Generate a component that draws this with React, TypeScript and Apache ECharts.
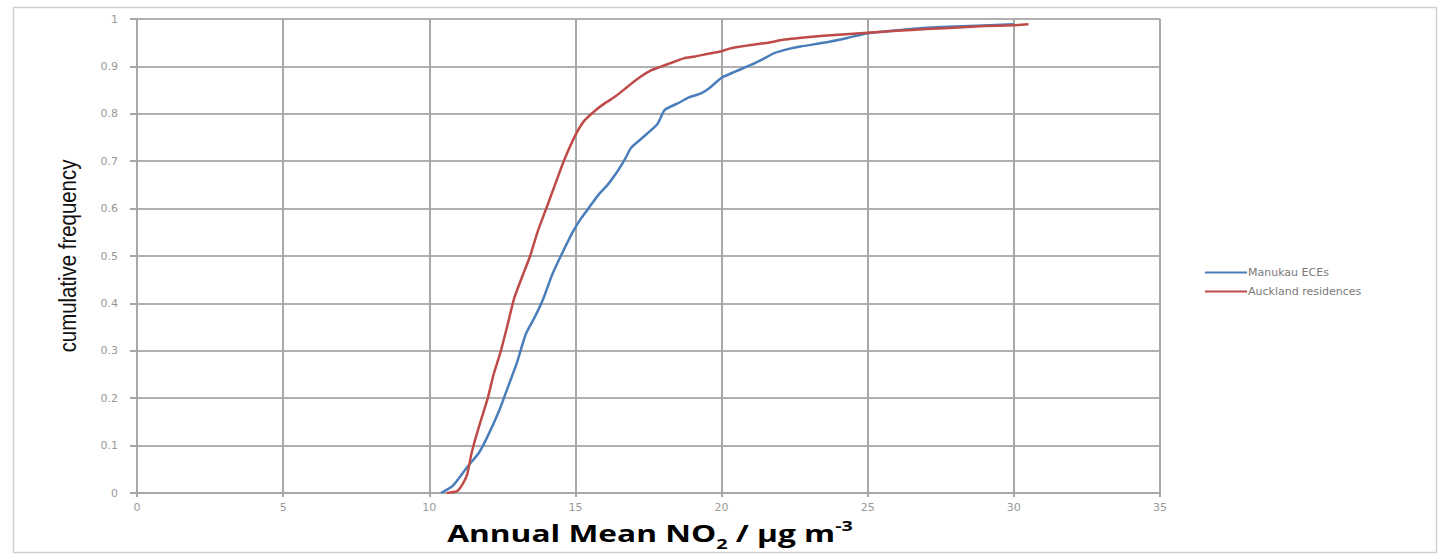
import React, { useEffect, useRef } from "react";
import * as echarts from "echarts";

const seriesNames = ["Manukau ECEs", "Auckland residences"];

const manukauX = [10.4, 10.8, 11.3, 11.7, 12.0, 12.4, 12.7, 13.0, 13.3, 13.6, 13.9, 14.2, 14.5, 14.9, 15.2, 15.5, 15.8, 16.1, 16.4, 16.7, 16.9, 17.3, 17.8, 18.05, 18.5, 18.9, 19.3, 19.6, 20.0, 20.5, 21.0, 21.4, 21.8, 22.3, 22.7, 23.6, 24.3, 25.0, 25.8, 26.7, 28.0, 30.0];
const manukauY = [0, 0.015, 0.055, 0.085, 0.12, 0.175, 0.225, 0.275, 0.335, 0.37, 0.41, 0.46, 0.5, 0.55, 0.58, 0.605, 0.63, 0.65, 0.675, 0.705, 0.728, 0.75, 0.778, 0.808, 0.822, 0.835, 0.843, 0.855, 0.876, 0.89, 0.903, 0.915, 0.928, 0.937, 0.942, 0.951, 0.96, 0.97, 0.975, 0.98, 0.984, 0.989];

const aucklandX = [10.6, 10.95, 11.15, 11.3, 11.45, 11.7, 12.0, 12.2, 12.45, 12.7, 12.9, 13.2, 13.45, 13.7, 14.0, 14.3, 14.6, 15.0, 15.3, 15.7, 16.0, 16.4, 16.8, 17.2, 17.6, 17.9, 18.3, 18.7, 19.1, 19.5, 20.0, 20.3, 21.0, 21.6, 22.1, 23.2, 24.0, 25.0, 26.0, 27.0, 27.8, 29.0, 30.0, 30.5];
const aucklandY = [0, 0.004, 0.02, 0.04, 0.085, 0.14, 0.2, 0.25, 0.3, 0.36, 0.41, 0.46, 0.5, 0.55, 0.6, 0.65, 0.7, 0.755, 0.785, 0.808, 0.822, 0.838, 0.858, 0.877, 0.892, 0.899, 0.908, 0.917, 0.921, 0.926, 0.932, 0.938, 0.945, 0.95, 0.956, 0.963, 0.967, 0.971, 0.975, 0.979, 0.981, 0.985, 0.987, 0.989];

const xTitle = "{a|Annual Mean NO}{s|2}{a| / µg m}{p|-3}";
const yTitle = "cumulative frequency";

export default function App() {
  const ref = useRef<HTMLDivElement>(null);
  useEffect(() => {
    if (!ref.current) return;
    const chart = echarts.init(ref.current, null, { renderer: "svg" });
    const zip = (xs: number[], ys: number[]) => xs.map((x, i) => [x, ys[i]]);
    const labelStyle = { color: "#999999", fontSize: 11, fontFamily: "DejaVu Sans" };
    const titleFont = { fontWeight: "bold", fontFamily: "Open Sans", color: "#111" };
    chart.setOption({
      animation: false,
      backgroundColor: "#ffffff",
      grid: { left: 137, width: 1023, top: 19, height: 474, containLabel: false },
      legend: {
        orient: "vertical",
        left: 1200,
        top: 262,
        icon: "rect",
        itemWidth: 42,
        itemHeight: 2,
        itemGap: 8,
        textStyle: { color: "#7a7a7a", fontSize: 11, fontFamily: "DejaVu Sans", padding: [0, 0, 0, -4] },
        data: seriesNames,
      },
      xAxis: {
        type: "value",
        min: 0,
        max: 35,
        interval: 5,
        axisLine: { show: true, lineStyle: { color: "#a8a8a8", width: 2 } },
        axisTick: { show: true, length: 4, lineStyle: { color: "#a8a8a8", width: 2 } },
        axisLabel: { ...labelStyle, margin: 9 },
        splitLine: { show: true, lineStyle: { color: "#a8a8a8", width: 2 } },
      },
      yAxis: {
        type: "value",
        min: 0,
        max: 1,
        interval: 0.1,
        axisLine: { show: true, lineStyle: { color: "#a8a8a8", width: 2 } },
        axisTick: { show: true, length: 7, lineStyle: { color: "#a8a8a8", width: 2 } },
        axisLabel: { ...labelStyle, margin: 19, formatter: (v: number) => (Math.round(v * 10) / 10).toString() },
        splitLine: { show: true, lineStyle: { color: "#b0b0b0", width: 2 } },
      },
      graphic: [
        {
          type: "rect",
          shape: { x: 13.5, y: 7.5, width: 1423, height: 545 },
          style: { fill: "none", stroke: "#d0d0d0", lineWidth: 1.5 },
          silent: true,
          z: -10,
        },
        {
          type: "text",
          x: 68,
          y: 256,
          rotation: Math.PI / 2,
          scaleX: 0.85,
          style: {
            text: yTitle,
            fontSize: 24,
            fontFamily: "Liberation Sans",
            fill: "#111",
            align: "center",
            verticalAlign: "middle",
          },
        },
        {
          type: "text",
          x: 650,
          y: 533,
          scaleX: 1.32,
          style: {
            text: xTitle,
            align: "center",
            verticalAlign: "middle",
            rich: {
              a: { ...titleFont, fontSize: 24, lineHeight: 36 },
              s: { ...titleFont, fontSize: 15, lineHeight: 15, verticalAlign: "bottom" },
              p: { ...titleFont, fontSize: 15, lineHeight: 15, verticalAlign: "top", padding: [3, 0, 0, 0] },
            },
          },
        },
      ],
      series: [
        {
          name: seriesNames[0],
          type: "line",
          data: zip(manukauX, manukauY),
          showSymbol: false,
          symbol: "none",
          smooth: 0.2,
          lineStyle: { color: "#4a7ebb", width: 2.5 },
          itemStyle: { color: "#4a7ebb" },
          z: 3,
        },
        {
          name: seriesNames[1],
          type: "line",
          data: zip(aucklandX, aucklandY),
          showSymbol: false,
          symbol: "none",
          smooth: 0.2,
          lineStyle: { color: "#be4b48", width: 2.5 },
          itemStyle: { color: "#be4b48" },
          z: 4,
        },
      ],
    });
    return () => chart.dispose();
  }, []);
  return (
    <div
      ref={ref}
      style={{ position: "fixed", left: 0, top: 0, width: 1439, height: 554, background: "#fff" }}
    />
  );
}
